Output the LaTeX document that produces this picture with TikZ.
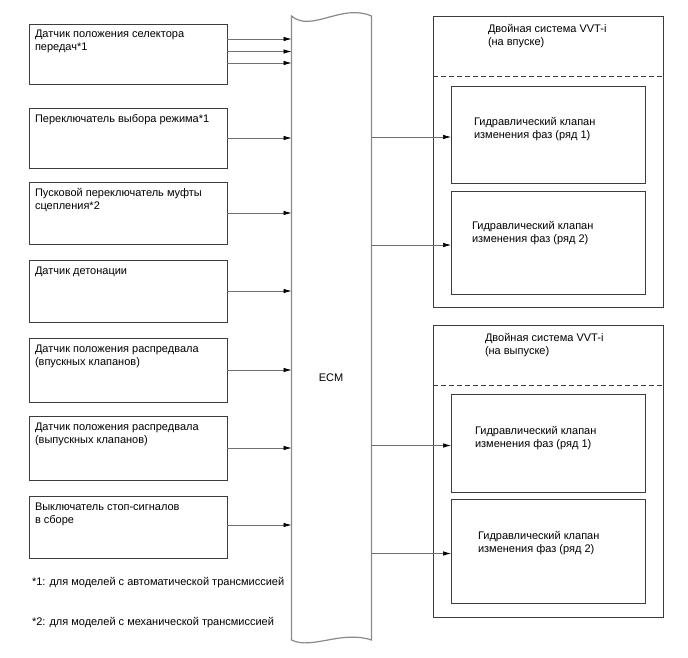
\documentclass[tikz,border=0pt]{standalone}
\usepackage{fontspec}
\setmainfont{Liberation Sans}
\usetikzlibrary{arrows.meta}
\definecolor{boxc}{HTML}{3C3C3C}
\definecolor{ecmc}{HTML}{8A8A8A}
\definecolor{linec}{HTML}{707070}
\begin{document}
\begin{tikzpicture}[x=1pt,y=-1pt,
  every node/.style={font=\fontsize{11}{13}\selectfont, inner sep=0pt, outer sep=0pt},
  lbox/.style={draw=boxc, line width=0.9pt, minimum width=198pt, anchor=north west},
  obox/.style={draw=boxc, line width=0.9pt, minimum width=230pt, anchor=north west},
  ibox/.style={draw=boxc, line width=0.9pt, minimum width=194pt, anchor=north west},
  txt/.style={anchor=north west, align=left},
  arr/.style={draw=linec, line width=0.7pt, -{Latex[length=8pt,width=4.5pt,color=black]}},
  dashline/.style={draw=boxc, line width=0.9pt, dash pattern=on 5pt off 3pt}
]
\useasboundingbox (0,0) rectangle (688,658);

% left boxes
\node[lbox, minimum height=60pt] (s1) at (29,24) {};
\node[lbox, minimum height=60pt] (s2) at (29,108) {};
\node[lbox, minimum height=62pt] (s3) at (29,182) {};
\node[lbox, minimum height=62pt] (s4) at (29,260) {};
\node[lbox, minimum height=64pt] (s5) at (29,338) {};
\node[lbox, minimum height=64pt] (s6) at (29,416) {};
\node[lbox, minimum height=62pt] (s7) at (29,496) {};

\node[txt] (t1) at (35,28.9) {\strut Датчик положения селектора\\передач*1};
\node[txt] (t2) at (35,113.4) {\strut Переключатель выбора режима*1};
\node[txt] (t3) at (35,187.4) {\strut Пусковой переключатель муфты\\сцепления*2};
\node[txt] (t4) at (35,264.9) {\strut Датчик детонации};
\node[txt] (t5) at (35,342.9) {\strut Датчик положения распредвала\\(впускных клапанов)};
\node[txt] (t6) at (35,420.9) {\strut Датчик положения распредвала\\(выпускных клапанов)};
\node[txt] (t7) at (35,500.9) {\strut Выключатель стоп-сигналов\\в сборе};

% ECM
\node[minimum width=80pt, minimum height=624pt] (ecm) at (331.5,328) {};
\draw[ecmc, line width=1.2pt]
  (ecm.north west) .. controls ([xshift=20pt,yshift=-17pt]ecm.north west) and ([xshift=-30pt,yshift=13pt]ecm.north east) .. (ecm.north east)
  -- (ecm.south east)
  .. controls ([xshift=-30pt,yshift=10pt]ecm.south east) and ([xshift=20pt,yshift=-10pt]ecm.south west) .. (ecm.south west)
  -- cycle;
\node (ecml) at (331,378) {ECM};

% left arrows
\draw[arr] ([yshift=15pt]s1.east) -- ([yshift=15pt]s1.east -| ecm.west);
\draw[arr] ([yshift=2.5pt]s1.east) -- ([yshift=2.5pt]s1.east -| ecm.west);
\draw[arr] ([yshift=-9pt]s1.east) -- ([yshift=-9pt]s1.east -| ecm.west);
\draw[arr] (s2.east) -- (s2.east -| ecm.west);
\draw[arr] (s3.east) -- (s3.east -| ecm.west);
\draw[arr] (s4.east) -- (s4.east -| ecm.west);
\draw[arr] (s5.east) -- (s5.east -| ecm.west);
\draw[arr] (s6.east) -- (s6.east -| ecm.west);
\draw[arr] ([yshift=2pt]s7.east) -- ([yshift=2pt]s7.east -| ecm.west);

% right groups
\node[obox, minimum height=291pt] (o1) at (433,16) {};
\node[obox, minimum height=292pt] (o2) at (433,325) {};
\coordinate (d1l) at ([yshift=-60pt]o1.north west);
\coordinate (d1r) at ([yshift=-60pt]o1.north east);
\coordinate (d2l) at ([yshift=-60pt]o2.north west);
\coordinate (d2r) at ([yshift=-60pt]o2.north east);
\draw[dashline] (d1l) -- (d1r);
\draw[dashline] (d2l) -- (d2r);

\node[txt] (o1t) at (488,23.9) {\strut Двойная система VVT-i\\(на впуске)};
\node[txt] (o2t) at (485,331.9) {\strut Двойная система VVT-i\\(на выпуске)};

\node[ibox, minimum height=97pt] (va) at (451,86) {};
\node[ibox, minimum height=103pt] (vb) at (451,191) {};
\node[ibox, minimum height=98pt] (vc) at (451,394) {};
\node[ibox, minimum height=104pt] (vd) at (451,499) {};

\node[txt] (vat) at (474,116.9) {\strut Гидравлический клапан\\изменения фаз (ряд 1)};
\node[txt] (vbt) at (472,219.9) {\strut Гидравлический клапан\\изменения фаз (ряд 2)};
\node[txt] (vct) at (475,424.9) {\strut Гидравлический клапан\\изменения фаз (ряд 1)};
\node[txt] (vdt) at (478,529.9) {\strut Гидравлический клапан\\изменения фаз (ряд 2)};

\draw[arr] ([yshift=-2.5pt]va.west -| ecm.east) -- ([yshift=-2.5pt]va.west);
\draw[arr] ([yshift=-2.5pt]vb.west -| ecm.east) -- ([yshift=-2.5pt]vb.west);
\draw[arr] ([yshift=-2.5pt]vc.west -| ecm.east) -- ([yshift=-2.5pt]vc.west);
\draw[arr] ([yshift=-2.5pt]vd.west -| ecm.east) -- ([yshift=-2.5pt]vd.west);

% footnotes
\node[anchor=base west] (fn1) at (32,585) {*1: для моделей с автоматической трансмиссией};
\node[anchor=base west] (fn2) at (32,625) {*2: для моделей с механической трансмиссией};
\end{tikzpicture}
\end{document}
